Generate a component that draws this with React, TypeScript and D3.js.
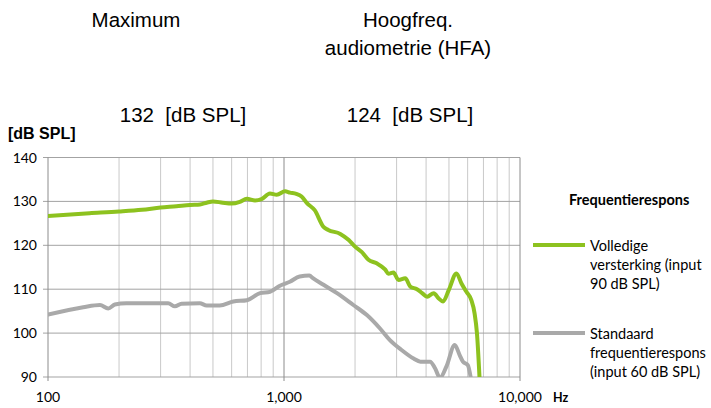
import * as d3 from 'd3'

const freqGreen = [100, 150, 200, 250, 300, 350, 400, 441, 470, 500, 550, 600, 650, 696, 754, 803, 872, 932, 1011, 1060, 1127, 1187, 1251, 1349, 1470, 1540, 1732, 1881, 2000, 2133, 2280, 2469, 2680, 2770, 2910, 3056, 3265, 3428, 3660, 3848, 4040, 4310, 4525, 4720, 4990, 5380, 5650, 5930, 6220, 6420, 6570, 6750]
const valGreen = [126.7, 127.3, 127.7, 128.1, 128.6, 128.9, 129.2, 129.3, 129.7, 130.0, 129.7, 129.5, 129.9, 130.6, 130.2, 130.5, 131.8, 131.5, 132.3, 132.0, 131.7, 131.1, 129.6, 128.0, 124.2, 123.5, 122.6, 121.2, 119.7, 118.5, 116.7, 115.9, 114.5, 113.5, 113.8, 112.1, 112.5, 110.6, 110.0, 109.1, 108.3, 109.1, 107.9, 107.2, 109.8, 113.6, 111.3, 109.4, 107.5, 104.5, 100, 89]

const freqGray = [100, 141, 166, 180, 192, 215, 300, 323, 345, 368, 440, 470, 534, 610, 696, 792, 872, 961, 1059, 1165, 1281, 1326, 1470, 1677, 1967, 2245, 2546, 2810, 3157, 3542, 3785, 4160, 4366, 4580, 4880, 5290, 5550, 5730, 6010, 6220]
const valGray = [104.2, 105.9, 106.4, 105.6, 106.5, 106.8, 106.8, 106.8, 106.1, 106.7, 106.8, 106.3, 106.3, 107.2, 107.5, 109.1, 109.4, 110.8, 111.7, 112.9, 113.1, 112.5, 111.0, 109.1, 106.4, 104.1, 101.1, 98.4, 96.1, 94.2, 93.5, 93.5, 92.0, 89.8, 92.4, 97.3, 95.0, 93.5, 92.7, 89]

const yTicks = [90, 100, 110, 120, 130, 140]
const xMajor = [100, 1000, 10000]
const xLabels = ['100', '1,000', '10,000']

const titles = [
  { lines: ['Maximum'], value: '132  [dB SPL]' },
  { lines: ['Hoogfreq.', 'audiometrie (HFA)'], value: '124  [dB SPL]' },
]

const legendItems = [
  { color: '#8dc21f', lines: ['Volledige', 'versterking (input', '90 dB SPL)'] },
  { color: '#a9a9a9', lines: ['Standaard', 'frequentierespons', '(input 60 dB SPL)'] },
]

type Pt = { f: number; v: number }

export default function App() {
  const width = 711
  const height = 408
  const left = 48
  const right = 520
  const top = 157.5
  const bottom = 377

  const x = d3.scaleLog().domain([100, 10000]).range([left, right])
  const y = d3.scaleLinear().domain([90, 140]).range([bottom, top])

  const minor: number[] = []
  for (let dec = 100; dec < 10000; dec *= 10) {
    for (let k = 2; k <= 9; k++) minor.push(dec * k)
  }

  const line = d3
    .line<Pt>()
    .x((d) => x(d.f))
    .y((d) => y(d.v))
    .curve(d3.curveMonotoneX)

  const green = freqGreen.map((f, i) => ({ f, v: valGreen[i] }))
  const gray = freqGray.map((f, i) => ({ f, v: valGray[i] }))

  const arial = 'Liberation Sans, Arial, sans-serif'
  const cal = 'Lato, sans-serif'
  const headX = [136, 408]
  const valueX = [183, 410]

  return (
    <svg width={width} height={height} style={{ position: 'absolute', left: 0, top: 0 }}>
      <rect width={width} height={height} fill="#fff" />
      <defs>
        <clipPath id="plot">
          <rect x={left} y={top - 4} width={right - left} height={bottom - top + 4} />
        </clipPath>
      </defs>

      {/* header texts */}
      {titles.map((t, i) => (
        <g key={i} fontFamily={arial} fontSize={20.5} fill="#000" textAnchor="middle">
          {t.lines.map((l, j) => (
            <text key={j} x={headX[i]} y={27 + j * 28}>
              {l}
            </text>
          ))}
          <text x={valueX[i]} y={122} style={{ whiteSpace: 'pre' }}>
            {t.value}
          </text>
        </g>
      ))}

      {/* grid */}
      {minor.map((f) => (
        <line key={f} x1={x(f)} x2={x(f)} y1={top} y2={bottom} stroke="#c9c9c9" strokeWidth={1} />
      ))}
      {yTicks.map((v) => (
        <line key={v} x1={left - 5} x2={right} y1={y(v)} y2={y(v)} stroke="#a3a3a3" strokeWidth={1} />
      ))}
      {xMajor.map((f) => (
        <line key={f} x1={x(f)} x2={x(f)} y1={top} y2={bottom + 4} stroke="#8c8c8c" strokeWidth={1} />
      ))}

      {/* series */}
      <g clipPath="url(#plot)" fill="none" strokeWidth={4} strokeLinejoin="round" strokeLinecap="round">
        <path d={line(gray) ?? undefined} stroke="#a9a9a9" />
        <path d={line(green) ?? undefined} stroke="#8dc21f" />
      </g>

      {/* axis labels */}
      <text x={8} y={139} fontFamily={arial} fontWeight="bold" fontSize={16} fill="#000">
        [dB SPL]
      </text>
      {yTicks.map((v) => (
        <text key={v} x={37} y={y(v) + 5} textAnchor="end" fontFamily={cal} fontSize={14} fill="#000">
          {v}
        </text>
      ))}
      {xMajor.map((f, i) => (
        <text key={f} x={x(f)} y={402} textAnchor="middle" fontFamily={cal} fontSize={14} fill="#000">
          {xLabels[i]}
        </text>
      ))}
      <text x={553} y={402} fontFamily={cal} fontWeight="bold" fontSize={12.5} fill="#000">
        Hz
      </text>

      {/* legend */}
      <text x={569} y={205} fontFamily={cal} fontWeight="bold" fontSize={14.5} fill="#000">
        Frequentierespons
      </text>
      {legendItems.map((it, i) => {
        const ly = 245 + i * 88
        return (
          <g key={i}>
            <line x1={533} x2={585} y1={ly} y2={ly} stroke={it.color} strokeWidth={4} />
            {it.lines.map((l, j) => (
              <text key={j} x={590} y={ly + 6 + j * 19} fontFamily={cal} fontSize={14.5} fill="#000">
                {l}
              </text>
            ))}
          </g>
        )
      })}
    </svg>
  )
}
